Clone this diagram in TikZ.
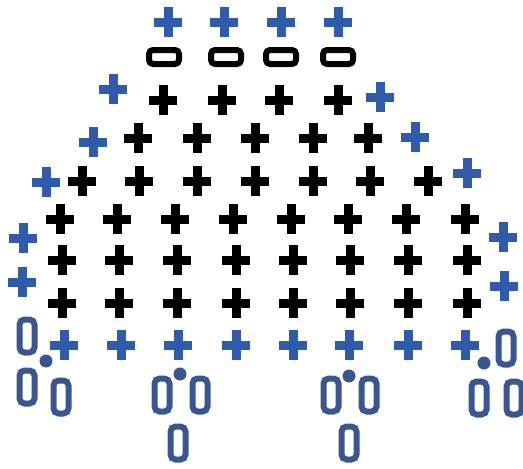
\documentclass[tikz,border=0pt]{standalone}
\definecolor{plblue}{RGB}{46,92,170}
\definecolor{zblue}{RGB}{58,86,145}
\tikzset{
  plusarm/.style={line width=9pt,line cap=butt},
  zeroshape/.style={draw=zblue,line width=6pt,rounded corners=5pt},
  ovalshape/.style={draw=black,line width=6pt,rounded corners=4pt},
  dotshape/.style={fill=zblue}
}
\newcommand\myplus[3]{%
  \draw[plusarm,#1] (#2-14,#3) -- (#2+14,#3);
  \draw[plusarm,#1] (#2,#3-15) -- (#2,#3+15);}
\newcommand\myzero[2]{%
  \draw[zeroshape] (#1-7.5,#2-16.5) rectangle (#1+7.5,#2+16.5);}
\newcommand\myoval[2]{%
  \draw[ovalshape] (#1-15,#2-7) rectangle (#1+15,#2+7);}
\newcommand\mydot[2]{\fill[dotshape] (#1,#2) circle [radius=6.5];}
\begin{document}
\begin{tikzpicture}[x=1pt,y=-1pt]
\useasboundingbox (0,0) rectangle (523,469);
% top blue pluses
\foreach \x in {168,224,281,338} {\myplus{plblue}{\x}{22}}
% ovals
\foreach \x in {164,226,281,338} {\myoval{\x}{57}}
% row 2
\myplus{plblue}{113}{89}
\foreach \x in {163,222,279,338} {\myplus{black}{\x}{100}}
\myplus{plblue}{380}{97}
% row 3
\myplus{plblue}{93}{142}
\foreach \x in {138,197,255,313,368} {\myplus{black}{\x}{138}}
\myplus{plblue}{415}{137}
% row 4
\myplus{plblue}{46}{182}
\foreach \x in {82,139,197,255,313,370,428} {\myplus{black}{\x}{181}}
\myplus{plblue}{467}{173}
% row 5
\foreach \x in {60,117,175,233,291,348,406,465} {\myplus{black}{\x}{219}}
\myplus{plblue}{23}{238}
\myplus{plblue}{503}{237}
% row 6
\foreach \x in {62,119,177,236,293,350,408,467} {\myplus{black}{\x}{260}}
\myplus{plblue}{22}{282}
\myplus{plblue}{504}{286}
% row 7
\foreach \x in {62,119,177,236,293,350,408,467} {\myplus{black}{\x}{303}}
% row 8 blue
\foreach \x in {64,121,178,236,293,349,408,465} {\myplus{plblue}{\x}{345}}
% bottom groups
\myzero{27}{336}\mydot{46}{361}\myzero{27}{387}\myzero{61}{397}
\mydot{180}{374}\myzero{162}{395}\myzero{200}{395}\myzero{178}{443}
\mydot{349}{376}\myzero{331}{395}\myzero{369}{395}\myzero{349}{443}
\myzero{506}{348}\mydot{484}{363}\myzero{479}{398}\myzero{514}{398}
\end{tikzpicture}
\end{document}
